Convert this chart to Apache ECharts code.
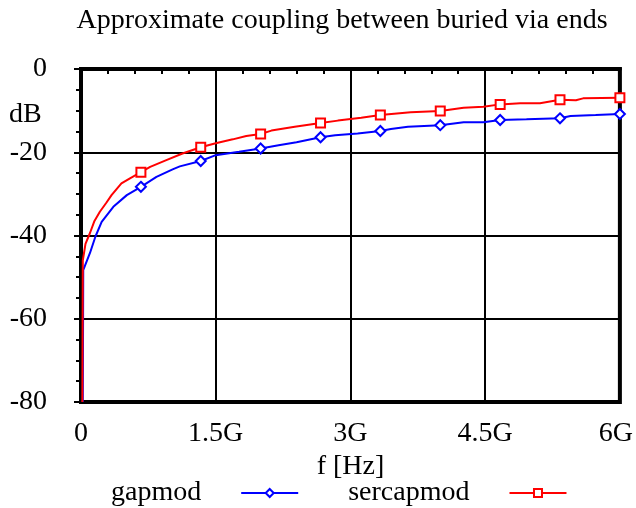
<!DOCTYPE html>
<html><head><meta charset="utf-8">
<script src="https://cdn.jsdelivr.net/npm/echarts@6/dist/echarts.min.js"></script>
<style>html,body{margin:0;padding:0;background:#fff}#c{width:636px;height:508px}</style>
</head><body><div id="c"></div>
<script>
// frequency in GHz, values in dB
const gapFreq = [0.02,0.025,0.1,0.16,0.23,0.36,0.51,0.667,0.84,1.02,1.1,1.333,1.5,1.76,2.0,2.2,2.4,2.667,2.83,3.08,3.333,3.45,3.64,4.0,4.26,4.48,4.667,4.96,5.333,5.45,5.73,6.0];
const gapDb   = [-80,-48.3,-44.2,-40.3,-36.7,-33.1,-30.3,-28.3,-25.9,-24.1,-23.4,-22.1,-20.7,-19.9,-19.1,-18.3,-17.6,-16.4,-15.9,-15.5,-14.9,-14.4,-13.9,-13.5,-12.8,-12.8,-12.25,-12.1,-11.85,-11.3,-11.05,-10.8];
const serFreq = [0.015,0.02,0.05,0.1,0.15,0.21,0.28,0.34,0.45,0.55,0.667,0.77,0.95,1.13,1.333,1.5,1.69,1.84,2.0,2.12,2.38,2.667,2.86,3.12,3.333,3.67,4.0,4.26,4.48,4.667,4.89,5.11,5.333,5.51,5.59,6.0];
const serDb   = [-80,-46,-42,-39.4,-36.5,-34.3,-32.2,-30.3,-27.5,-26.2,-24.8,-23.5,-21.9,-20.3,-18.8,-17.85,-16.9,-16.1,-15.6,-14.8,-13.9,-13.0,-12.4,-11.7,-11.05,-10.4,-10.1,-9.3,-9.05,-8.5,-8.25,-8.25,-7.4,-7.5,-7.05,-6.9];
const markerFreq = [0.667,1.333,2.0,2.667,3.333,4.0,4.667,5.333,6.0];
const xTicks = ['0','1.5G','3G','4.5G','6G'];
const seriesNames = ['gapmod','sercapmod'];

const FONT = "'Liberation Serif','Times New Roman',serif";
function build(fr, db, sym) {
  return fr.map((f, i) => ({
    value: [f, db[i]],
    symbol: markerFreq.some(m => Math.abs(m - f) < 1e-6) ? sym : 'none'
  }));
}
const chart = echarts.init(document.getElementById('c'));
chart.setOption({
  animation: false,
  backgroundColor: '#fff',
  title: {
    text: 'Approximate coupling between buried via ends',
    left: 337, top: 2, textAlign: 'center',
    textStyle: {fontFamily: FONT, fontWeight: 'normal', fontSize: 28, color: '#000'}
  },
  grid: {left: 81, right: 13, top: 69, bottom: 106, show: true, borderColor: '#000', borderWidth: 4},
  xAxis: {
    type: 'value', min: 0, max: 6, interval: 1.5,
    name: 'f [Hz]', nameLocation: 'middle', nameGap: 47,
    nameTextStyle: {fontFamily: FONT, fontSize: 28, color: '#000'},
    axisLine: {lineStyle: {color: '#000', width: 4}},
    axisTick: {show: true, length: 7, lineStyle: {color: '#000', width: 2}},
    minorTick: {show: true, splitNumber: 5, length: 5, lineStyle: {color: '#000', width: 2}},
    splitLine: {show: true, lineStyle: {color: '#000', width: 2}},
    axisLabel: {
      fontFamily: FONT, fontSize: 28, color: '#000', margin: 18,
      formatter: v => {
        const i = Math.round(v / 1.5);
        return i === xTicks.length - 1 ? '{e|' + xTicks[i] + '}' : xTicks[i];
      },
      rich: {e: {fontFamily: FONT, fontSize: 28, color: '#000', padding: [0, 8, 0, 0]}}
    }
  },
  yAxis: {
    type: 'value', min: -80, max: 0, interval: 20,
    axisLine: {show: true, lineStyle: {color: '#000', width: 4}},
    axisTick: {show: true, length: 7, lineStyle: {color: '#000', width: 2}},
    minorTick: {show: true, splitNumber: 4, length: 5, lineStyle: {color: '#000', width: 2}},
    splitLine: {show: true, lineStyle: {color: '#000', width: 2}},
    axisLabel: {fontFamily: FONT, fontSize: 28, color: '#000', margin: 34}
  },
  graphic: [{
    type: 'text', left: 9, top: 101,
    style: {text: 'dB', font: '28px ' + FONT, fill: '#000'}
  }],
  legend: {
    left: 106, top: 474, align: 'right', itemWidth: 57, itemHeight: 10, itemGap: 49,
    textStyle: {fontFamily: FONT, fontSize: 28, color: '#000', padding: [0, 35, 0, 0]},
    data: seriesNames
  },
  series: [
    {
      name: seriesNames[0], type: 'line', data: build(gapFreq, gapDb, 'emptyDiamond'),
      symbol: 'emptyDiamond', symbolSize: 10, showAllSymbol: true,
      color: '#0000ff', lineStyle: {width: 2, color: '#0000ff'},
      itemStyle: {color: '#0000ff', borderWidth: 2}
    },
    {
      name: seriesNames[1], type: 'line', data: build(serFreq, serDb, 'emptyRect'),
      symbol: 'emptyRect', symbolSize: 9, showAllSymbol: true,
      color: '#ff0000', lineStyle: {width: 2, color: '#ff0000'},
      itemStyle: {color: '#ff0000', borderWidth: 2}
    }
  ]
});
</script></body></html>
